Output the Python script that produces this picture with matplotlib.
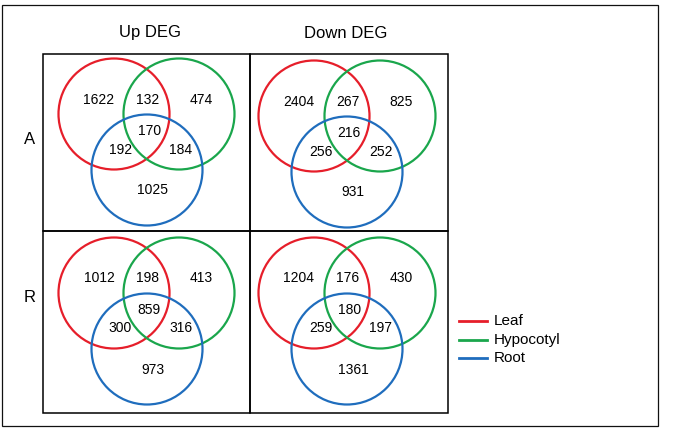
import matplotlib
matplotlib.use("Agg")
import matplotlib.pyplot as plt
from matplotlib.patches import Circle, Rectangle

plt.rcParams['font.family'] = ['Liberation Sans', 'DejaVu Sans']

# counts per region: leaf only, leaf+hypocotyl, hypocotyl only, all three,
# leaf+root, hypocotyl+root, root only
col_titles = ['Up DEG', 'Down DEG']
row_labels = ['A', 'R']
counts_A_up = [1622, 132, 474, 170, 192, 184, 1025]
counts_A_down = [2404, 267, 825, 216, 256, 252, 931]
counts_R_up = [1012, 198, 413, 859, 300, 316, 973]
counts_R_down = [1204, 176, 430, 180, 259, 197, 1361]
sets = ['Leaf', 'Hypocotyl', 'Root']
colors = ['#e61e2a', '#1aa64c', '#1f6dbd']

counts = [[counts_A_up, counts_A_down], [counts_R_up, counts_R_down]]

# layout in pixel units (y grows downward)
box_x = [43, 250, 448]
box_y = [54, 231, 413]
title_x = [150, 346]
red_x = [114, 314]
green_x = [179, 380]
blue_x = [147, 347]
top_y = [[114, 116], [293, 293]]
radius = 55.5
lab_dx = [-48, 0.5, 54.5, 2.2, -26.5, 33.5, 6]
lab_dy = [-14.5, -14.5, -14.5, 17, 35.5, 35.5, 76.5]

fig = plt.figure(figsize=(6.73, 4.29), dpi=100)
ax = fig.add_axes([0, 0, 1, 1])
ax.set_xlim(0, 673)
ax.set_ylim(429, 0)
ax.axis('off')

# outer frame
ax.add_patch(Rectangle((2, 5), 656, 421, fill=False, lw=0.9, ec='#111111'))

# grid of panels
for r in range(2):
    for c in range(2):
        ax.add_patch(Rectangle((box_x[c], box_y[r]), box_x[c + 1] - box_x[c],
                               box_y[r + 1] - box_y[r], fill=False, lw=1.1, ec='black'))

for c in range(2):
    ax.text(title_x[c], 33, col_titles[c], fontsize=12, ha='center', va='center')
for r in range(2):
    ax.text(30, [140, 297][r], row_labels[r], fontsize=12, ha='center', va='center')

for r in range(2):
    for c in range(2):
        cy = top_y[r][c]
        centers = [(red_x[c], cy), (green_x[c], cy), (blue_x[c], cy + 56)]
        for (x, y), col in zip(centers, colors):
            ax.add_patch(Circle((x, y), radius, fill=False, lw=1.6, ec=col))
        for i, n in enumerate(counts[r][c]):
            ax.text(blue_x[c] + lab_dx[i], cy + lab_dy[i], str(n), fontsize=10,
                    ha='center', va='center')

# legend
for i, (name, col) in enumerate(zip(sets, colors)):
    y = [321, 340, 357.5][i]
    ax.plot([459, 487], [y, y], color=col, lw=2)
    ax.text(494, y, name, fontsize=11, ha='left', va='center')

fig.savefig('out.png', dpi=100)
